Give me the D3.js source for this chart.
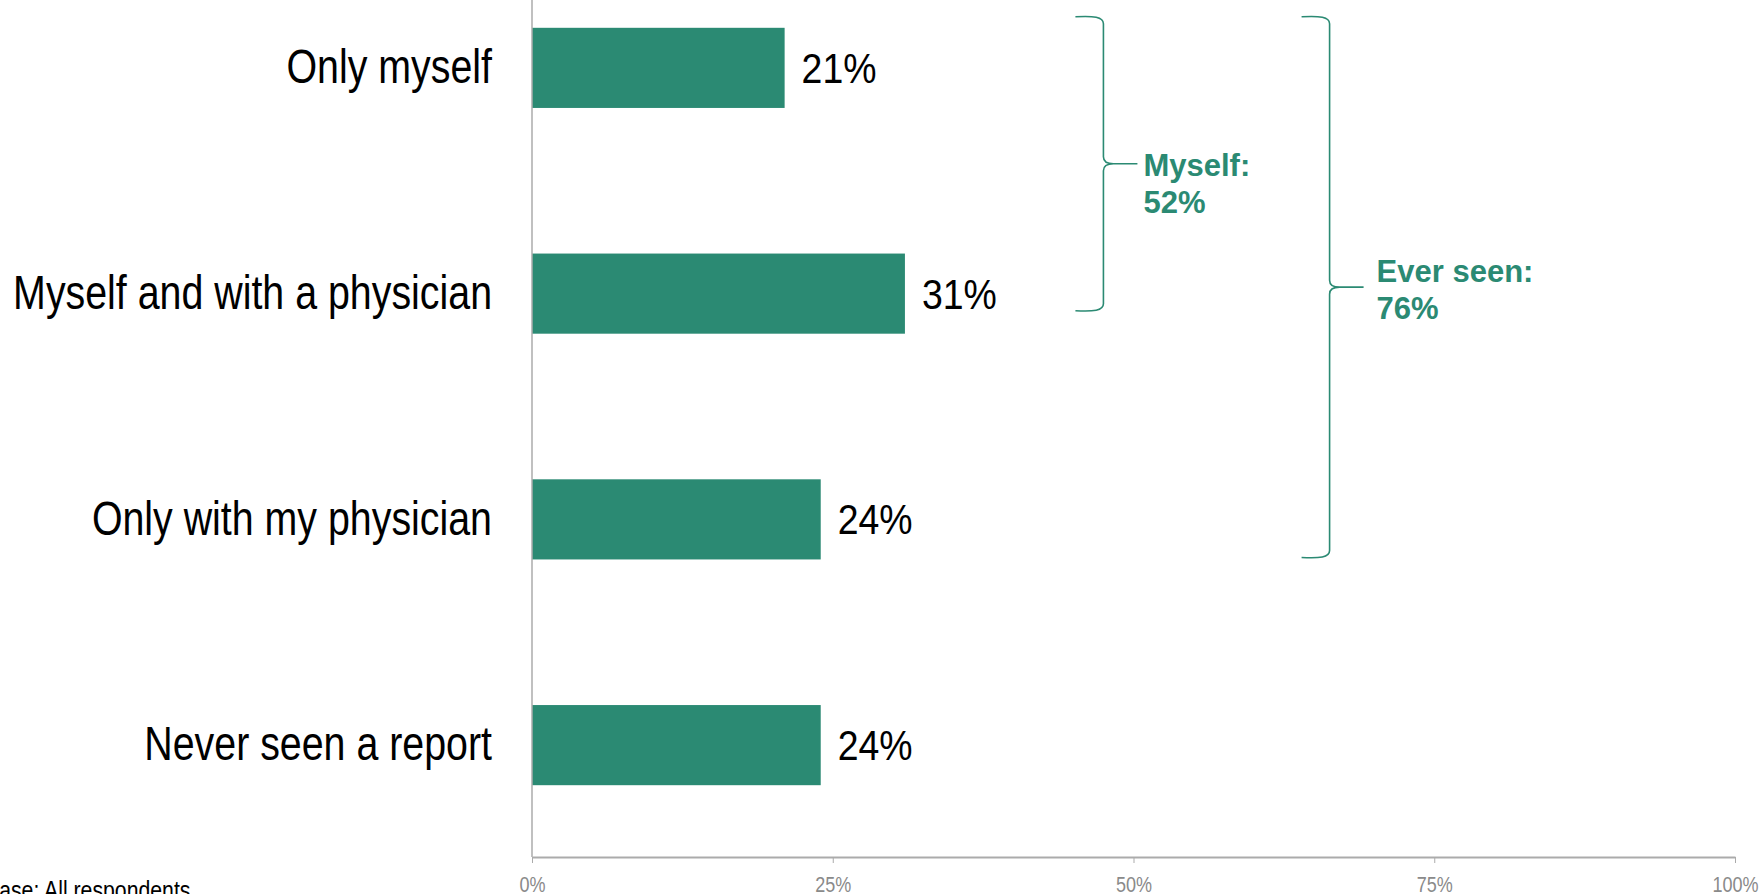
<!DOCTYPE html>
<html><head><meta charset="utf-8">
<script src="https://cdn.jsdelivr.net/npm/d3@7"></script>
<style>
body{margin:0;background:#fff;overflow:hidden}
svg{display:block}
text{font-family:"Liberation Sans",Arial,sans-serif}
</style>
</head><body>
<svg id="chart" width="1763" height="894"></svg>
<script>
// ---- data ----
const categories = ["Only myself", "Myself and with a physician", "Only with my physician", "Never seen a report"];
const values = [21, 31, 24, 24];
const tickValues = [0, 25, 50, 75, 100];
const tickLabels = ["0%", "25%", "50%", "75%", "100%"];
const groupLines = [["Myself:", "52%"], ["Ever seen:", "76%"]];
const groupFirst = [0, 0];
const groupLast = [1, 2];
const footnote = "Base:  All respondents";

// ---- layout ----
const W = 1763, H = 894;
const teal = "#2b8a73";
const axisColor = "#ababab";
const NX = 0.82;  // horizontal condensing factor (narrow face)
const NXV = 0.87; // value labels
const svg = d3.select("#chart");

const x = d3.scaleLinear().domain([0, 100]).range([532, 1735]);
const y = d3.scaleBand().domain(categories).range([-45, 858]).paddingInner(0.645).paddingOuter(0.3225);
const bw = y.bandwidth();
const baseY = 857;

// bars
svg.append("g").selectAll("rect").data(values).join("rect")
  .attr("x", x(0))
  .attr("y", (d, i) => y(categories[i]))
  .attr("width", d => x(d) - x(0))
  .attr("height", bw)
  .attr("fill", teal);

// value labels
svg.append("g").selectAll("text").data(values).join("text")
  .attr("transform", `scale(${NXV},1)`)
  .attr("x", d => (x(d) + 17) / NXV)
  .attr("y", (d, i) => y(categories[i]) + bw / 2)
  .attr("dy", "0.35em")
  .attr("font-size", 43)
  .attr("fill", "#000")
  .text(d => d + "%");

// left axis (categories)
const gy = svg.append("g").attr("transform", `translate(${x(0)},0)`)
  .call(d3.axisLeft(y).tickSize(0).tickSizeOuter(0).tickPadding(40));
gy.select(".domain").remove();
gy.attr("font-family", null);
gy.selectAll("text")
  .attr("transform", `scale(${NX},1)`)
  .attr("x", -40 / NX)
  .attr("font-size", 48).attr("fill", "#000").attr("dy", "0.32em");
svg.append("line").attr("x1", x(0)).attr("x2", x(0)).attr("y1", 0).attr("y2", baseY)
  .attr("stroke", axisColor).attr("stroke-width", 1.5);

// bottom axis
const gx = svg.append("g").attr("transform", `translate(0,${baseY})`)
  .call(d3.axisBottom(x).tickValues(tickValues).tickFormat((d, i) => tickLabels[i]).tickSize(6).tickSizeOuter(0).tickPadding(13));
gx.attr("font-family", null);
gx.select(".domain").attr("stroke", axisColor).attr("stroke-width", 2);
gx.selectAll(".tick line").attr("stroke", axisColor).attr("stroke-width", 1);
gx.selectAll("text").attr("transform", `scale(${NX},1)`).attr("font-size", 22).attr("fill", "#8a8a8a");

// braces
function brace(xl, xv, xt, top, bottom) {
  const mid = (top + bottom) / 2;
  const r = 7;
  return `M${xl},${top} C${xv - 10},${top - 1} ${xv},${top} ${xv},${top + r}` +
         ` V${mid - r} C${xv},${mid - 2} ${xv + 4},${mid} ${xv + 10},${mid} H${xt}` +
         ` M${xv + 10},${mid} C${xv + 4},${mid} ${xv},${mid + 2} ${xv},${mid + r}` +
         ` V${bottom - r} C${xv},${bottom} ${xv - 10},${bottom + 1} ${xl},${bottom}`;
}
const braceX = [47.5, 66.3];         // vertical stroke position on value scale
const braceTopOff = [-11, -11];
const braceBotOff = [-23, -2];
const textOff = [12, -5];
const textGap = [6, 13];
groupLines.forEach((lines, g) => {
  const top = y(categories[groupFirst[g]]) + braceTopOff[g];
  const bottom = y(categories[groupLast[g]]) + bw + braceBotOff[g];
  const xv = x(braceX[g]);
  const xl = xv - 28, xt = xv + 34;
  svg.append("path").attr("d", brace(xl, xv, xt, top, bottom))
    .attr("fill", "none").attr("stroke", teal).attr("stroke-width", 1.6);
  const mid = (top + bottom) / 2;
  const t = svg.append("text").attr("x", xt + textGap[g]).attr("y", mid + textOff[g])
    .attr("font-weight", "bold").attr("font-size", 31).attr("fill", teal);
  lines.forEach((ln, k) => t.append("tspan").attr("x", xt + textGap[g]).attr("dy", k ? 37 : 0).text(ln));
});

// footnote
svg.append("text").attr("transform", `scale(0.85,1)`).attr("x", -15 / 0.85).attr("y", 899)
  .attr("font-size", 25).attr("fill", "#000").text(footnote);
</script>
</body></html>
